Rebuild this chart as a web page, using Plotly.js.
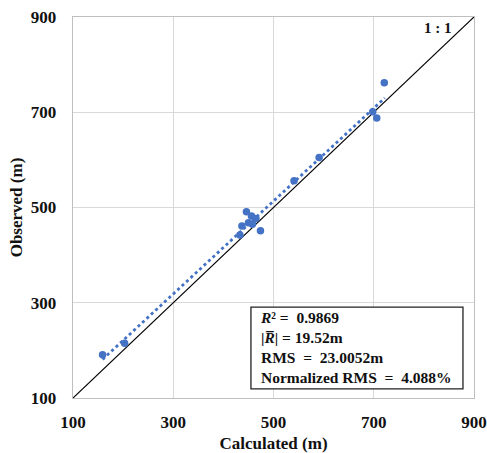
<!DOCTYPE html>
<html>
<head>
<meta charset="utf-8">
<script src="https://cdn.plot.ly/plotly-3.0.1.min.js"></script>
<style>html,body{margin:0;padding:0;background:#fff;}#chart{width:487px;height:453px;}</style>
</head>
<body>
<div id="chart"></div>
<script>
const calculated = [159, 203, 433, 437, 446, 450, 456, 458, 465, 474, 541, 591, 698, 706, 721];
const observed   = [191, 215, 442, 461, 491, 468, 482, 465, 477, 451, 556, 605, 701, 688, 762];
const trendX = [159, 722];
const trendY = [181, 730];
const oneToOne = [100, 900];
const tickVals = [100, 300, 500, 700, 900];
const statsLines = [
  "<i>R</i>² =  0.9869",
  "|<i>R̅</i>| = 19.52m",
  "RMS  =  23.0052m",
  "Normalized RMS  =  4.088%"
];

const serif = "Liberation Serif, Times New Roman, serif";
const blue = "#4472C4";

const traces = [
  {x: oneToOne, y: oneToOne, mode: "lines", line: {color: "#000", width: 1.2}, hoverinfo: "skip"},
  {x: trendX, y: trendY, mode: "lines", line: {color: blue, width: 2.8, dash: "dot"}, hoverinfo: "skip"},
  {x: calculated, y: observed, mode: "markers", marker: {color: blue, size: 7.5}}
];

const axisCommon = {
  range: [100, 900],
  tickvals: tickVals,
  ticks: "",
  showgrid: true,
  gridcolor: "#d9d9d9",
  gridwidth: 1.3,
  zeroline: false,
  showline: true,
  linecolor: "#bfbfbf",
  linewidth: 1.3,
  mirror: true,
  tickfont: {family: serif, size: 17, color: "#111", weight: "bold"}
};

const layout = {
  width: 487, height: 453,
  margin: {l: 73, r: 13, t: 17, b: 55},
  paper_bgcolor: "#fff", plot_bgcolor: "#fff",
  showlegend: false,
  font: {family: serif, color: "#111"},
  xaxis: Object.assign({}, axisCommon, {
    ticklabelstandoff: 8,
    title: {text: "<b>Calculated (m)</b>", font: {family: serif, size: 17, color: "#111"}, standoff: 14}
  }),
  yaxis: Object.assign({}, axisCommon, {
    ticklabelstandoff: 12,
    title: {text: "<b>Observed (m)</b>", font: {family: serif, size: 17, color: "#111"}, standoff: 3}
  }),
  shapes: [
    {type: "rect", xref: "x", yref: "y", x0: 455, x1: 878, y0: 119, y1: 291,
     line: {color: "#222", width: 1.3}, fillcolor: "#fff", layer: "above"}
  ],
  annotations: [
    {xref: "x", yref: "y", x: 469, y: 205, xanchor: "left", yanchor: "middle", align: "left",
     showarrow: false, text: statsLines.map(s => "<b>" + s + "</b>").join("<br>"),
     font: {family: serif, size: 15.5, color: "#111"}},
    {xref: "x", yref: "y", x: 860, y: 877, xanchor: "right", yanchor: "middle",
     showarrow: false, text: "<b>1 : 1</b>", font: {family: serif, size: 15, color: "#111"}}
  ]
};

Plotly.newPlot("chart", traces, layout, {displayModeBar: false, staticPlot: true});
</script>
</body>
</html>
